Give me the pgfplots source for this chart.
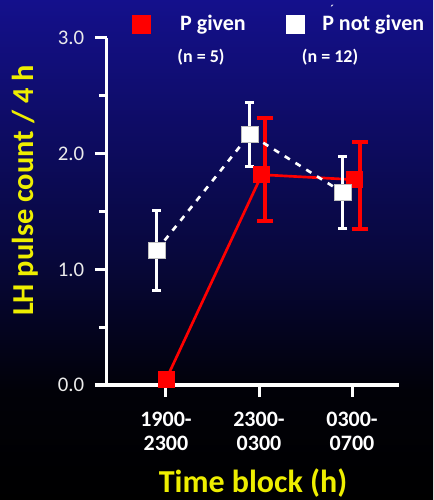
\documentclass[border=0pt]{standalone}
\usepackage{pgfplots}
\pgfplotsset{compat=1.18}
\usepackage{fontspec}
\setmainfont{Carlito}
\definecolor{bgtop}{RGB}{20,16,140}
\definecolor{bgmid}{RGB}{8,8,62}
\definecolor{bglow}{RGB}{1,1,8}
\definecolor{ylw}{RGB}{238,238,0}
\definecolor{tickgray}{RGB}{235,235,235}
\pgfdeclareverticalshading{bgshade}{100bp}{color(0bp)=(black); color(25bp)=(black); color(36bp)=(bglow); color(50bp)=(bgmid); color(75bp)=(bgtop); color(100bp)=(bgtop)}
\begin{document}
\begin{tikzpicture}
\path[use as bounding box] (0pt,0pt) rectangle (324.75pt,375pt);
\shade[shading=bgshade] (0pt,0pt) rectangle (324.75pt,375pt);
\begin{axis}[
  at={(80.25pt,86.25pt)}, anchor=south west,
  scale only axis, width=219pt, height=260.25pt,
  xmin=0.366, xmax=3.505, ymin=0, ymax=3,
  clip=false,
  axis lines=left,
  axis line style={-, white, line width=2.25pt},
  tick align=outside,
  xtick={1,2,3},
  xticklabels={{1900-\\2300},{2300-\\0300},{0300-\\0700}},
  xticklabel style={align=center, text=white, yshift=-8pt, font=\fontsize{16.5}{17.5}\selectfont\bfseries},
  ytick={0,1,2,3},
  yticklabels={0.0,1.0,2.0,3.0},
  yticklabel style={text=tickgray, xshift=-4.5pt, font=\fontsize{15.6}{18}\selectfont},
  minor ytick={0.5,1.5,2.5},
  major tick length=9pt, minor tick length=6pt,
  x tick style={line width=2.25pt, white},
  y tick style={line width=2.25pt, white},
  minor tick style={line width=2.25pt, white},
  xlabel={Time block (h)},
  ylabel={LH pulse count / 4 h},
  xlabel style={at={(axis description cs:0.5,-0.282)}, anchor=center, text=ylw, font=\fontsize{24}{26}\selectfont\bfseries},
  ylabel style={at={(axis description cs:-0.281,0.560)}, anchor=center, text=ylw, font=\fontsize{22.8}{26}\selectfont\bfseries},
  legend columns=2,
  legend style={at={(axis description cs:0.0798,1.040)}, anchor=west, draw=none, fill=none,
    inner sep=0pt, outer sep=0pt, text=white, font=\fontsize{16.5}{18}\selectfont\bfseries,
    nodes={inner sep=0pt},
    /tikz/every odd column/.append style={column sep=21pt},
    /tikz/every even column/.append style={column sep=29pt}},
  legend image code/.code={\path (-8pt,0pt) (8pt,0pt); \draw[#1] plot coordinates {(0pt,0pt)};},
]
\addlegendimage{only marks, mark=square*, mark size=7pt, red, mark options={fill=red, draw=red}}
\addlegendentry{P given}
\addlegendimage{only marks, mark=square*, mark size=6.8pt, mark options={fill=white, draw=white}}
\addlegendentry{\kern-9ptP\smash{\llap{\raisebox{13pt}{\fontsize{9}{9}\selectfont\char"00B4}}} not given}

% P given (red)
\addplot[forget plot, red, line width=2pt, mark=square*, mark size=6pt, mark options={fill=red, draw=red, line width=0.5pt}]
  coordinates {(1.0,0.046) (2.03,1.818) (3.03,1.775)};
\addplot[forget plot, draw=none, mark=none,
  error bars/.cd, y dir=both, y explicit,
  error bar style={red, line width=3pt},
  error mark options={red, rotate=90, mark size=6pt, line width=3pt}]
  coordinates {(2.06,1.818) += (0,0.49) -= (0,0.40) (3.09,1.775) += (0,0.33) -= (0,0.43)};

% P not given (white)
\addplot[forget plot, white, line width=2pt, dash pattern=on 4.5pt off 5pt, mark=none]
  coordinates {(0.9,1.164) (1.9,2.167) (2.9,1.665)};
\addplot[forget plot, draw=none, mark=square*, mark size=6.3pt,
  mark options={fill=white, draw=white!75!black, line width=0.5pt, solid},
  error bars/.cd, y dir=both, y explicit,
  error bar style={white, line width=2.25pt, solid},
  error mark options={white, rotate=90, mark size=3.4pt, line width=2.25pt, solid}]
  coordinates {(0.9,1.164) +- (0,0.345) (1.9,2.167) +- (0,0.275) (2.9,1.665) +- (0,0.31)};

\node[text=white, font=\fontsize{13.5}{15}\selectfont\bfseries] at (axis description cs:0.322,0.945) {(n = 5)};
\node[text=white, font=\fontsize{13.5}{15}\selectfont\bfseries] at (axis description cs:0.764,0.945) {(n = 12)};
\end{axis}
\end{tikzpicture}
\end{document}
